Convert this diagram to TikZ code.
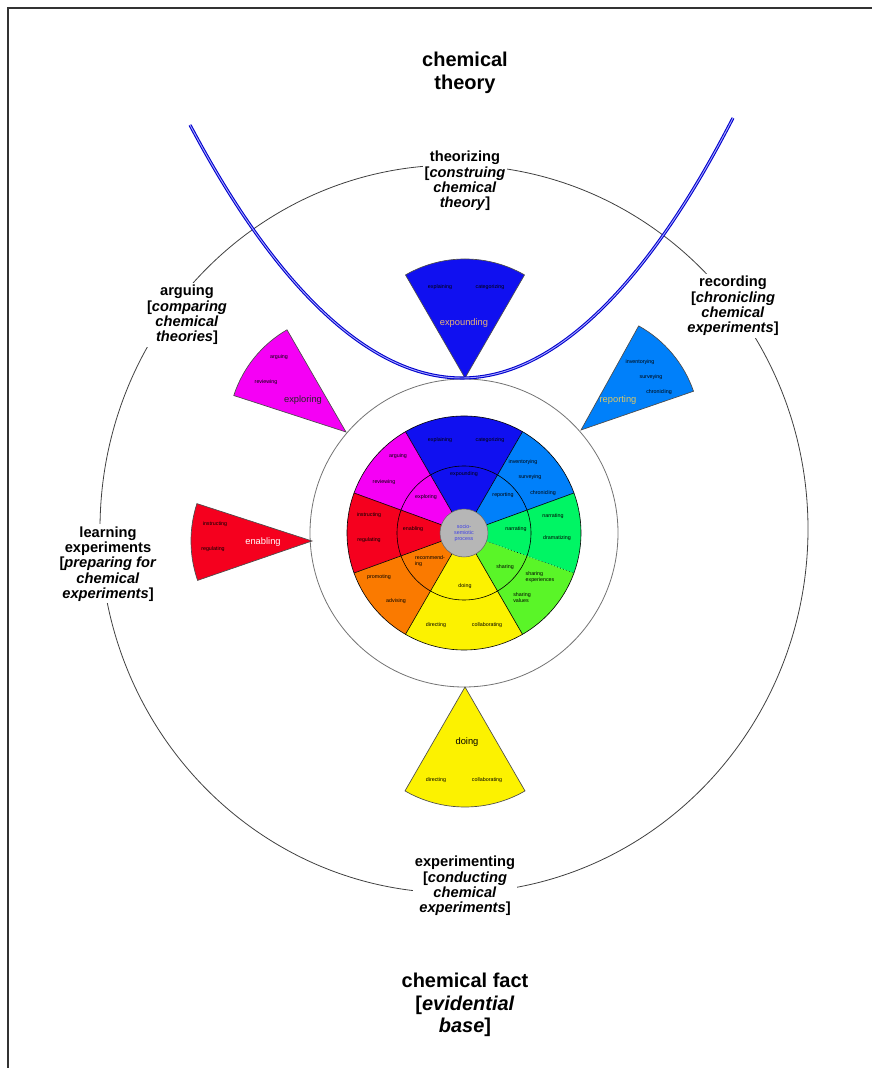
\documentclass[tikz,border=0pt]{standalone}
\usepackage{fontspec}
\setmainfont{Liberation Sans}
\usetikzlibrary{calc}

\definecolor{cBlue}{RGB}{16,16,240}
\definecolor{cSky}{RGB}{0,128,250}
\definecolor{cGreen}{RGB}{0,245,100}
\definecolor{cLime}{RGB}{90,245,40}
\definecolor{cYellow}{RGB}{252,242,0}
\definecolor{cOrange}{RGB}{250,122,0}
\definecolor{cRed}{RGB}{245,0,30}
\definecolor{cMagenta}{RGB}{245,0,245}
\definecolor{cTan}{RGB}{232,180,120}
\definecolor{cGold}{RGB}{222,200,100}
\definecolor{cHub}{RGB}{182,182,182}
\definecolor{cHubText}{RGB}{60,60,230}

\tikzset{
  tinylab/.style={font=\fontsize{4}{4.6}\selectfont, inner sep=0pt, align=center},
  seglab/.style={font=\fontsize{7}{8}\selectfont, inner sep=0pt},
  ringlab/.style={font=\bfseries\fontsize{11}{11.5}\selectfont, align=center, fill=white, inner sep=1.5pt},
  titlelab/.style={font=\bfseries\fontsize{15}{16.8}\selectfont, align=center},
  wedge/.style={draw=black!70, line width=0.5pt},
  spoke/.style={draw=black, line width=0.45pt},
  parab/.style={draw=blue!80!black, line width=2.3pt,
    postaction={draw=blue!35!white, line width=0.7pt}},
}

\begin{document}
\begin{tikzpicture}[x=0.75pt, y=0.75pt]
\useasboundingbox (0,0) rectangle (872,1068);

% page frame
\draw[black!80, line width=0.8pt] (8,0) -- (8,1060) -- (872,1060);

% centres and wedge tips
\coordinate (C) at (464,535);
\coordinate (E) at (454,539);
\coordinate (Ttop) at (465,690);
\coordinate (Tmag) at (346,636);
\coordinate (Tred) at (312,527);
\coordinate (Tsky) at (581,638);
\coordinate (Tyel) at (465,381);

% large orbit and the ring round the wheel
\draw[black!75, line width=0.6pt] (E) ellipse[x radius=354, y radius=364];
\draw[black!55, line width=0.6pt] (C) circle[radius=154];

% detached wedges
\filldraw[wedge, fill=cBlue] (Ttop) -- ++(60:119) arc[start angle=60, end angle=120, radius=119] -- cycle;
\filldraw[wedge, fill=cMagenta] (Tmag) -- ++(120:118) arc[start angle=120, end angle=162, radius=118] -- cycle;
\filldraw[wedge, fill=cRed] (Tred) -- ++(162:121) arc[start angle=162, end angle=199, radius=121] -- cycle;
\filldraw[wedge, fill=cSky] (Tsky) -- ++(19:119) arc[start angle=19, end angle=61, radius=119] -- cycle;
\filldraw[wedge, fill=cYellow] (Tyel) -- ++(240:120) arc[start angle=240, end angle=300, radius=120] -- cycle;

% theory curve
\path[parab] (190,943) parabola bend (462,690) (733,950);

% central wheel
\foreach \a/\b/\c in {60/120/cBlue, 120/160/cMagenta, 160/200/cRed, 200/240/cOrange,
                      240/300/cYellow, 300/340/cLime, 340/380/cGreen, 20/60/cSky}
  \fill[\c] (C) -- ++(\a:117) arc[start angle=\a, end angle=\b, radius=117] -- cycle;
\foreach \a in {20,60,120,160,200,240,300}
  \draw[spoke] ($(C)+(\a:24)$) -- ($(C)+(\a:117)$);
\draw[spoke, dotted] ($(C)+(340:24)$) -- ($(C)+(340:117)$);
\draw[spoke] (C) circle[radius=117];
\draw[spoke] (C) circle[radius=67];
\filldraw[fill=cHub, draw=black!60, line width=0.4pt] (C) circle[radius=24];
\node[tinylab, text=cHubText] (hub) at (C) {socio-\\semiotic\\process};

% wheel, outer ring
\node[tinylab] (w-explaining) at (440,628) {explaining};
\node[tinylab] (w-categorizing) at (490,628) {categorizing};
\node[tinylab] (w-arguing) at (398,612) {arguing};
\node[tinylab] (w-reviewing) at (384,586) {reviewing};
\node[tinylab] (w-inventorying) at (523,606) {inventorying};
\node[tinylab] (w-surveying) at (530,591) {surveying};
\node[tinylab] (w-chronicling) at (543,575) {chronicling};
\node[tinylab] (w-instructing) at (369,553) {instructing};
\node[tinylab] (w-regulating) at (369,528) {regulating};
\node[tinylab] (w-narrating) at (553,552) {narrating};
\node[tinylab] (w-dramatizing) at (557,530) {dramatizing};
\node[tinylab] (w-promoting) at (379,491) {promoting};
\node[tinylab] (w-advising) at (396,467) {advising};
\node[tinylab, align=left] (w-sharexp) at (540,491) {sharing\\experiences};
\node[tinylab, align=left] (w-sharval) at (522,470) {sharing\\values};
\node[tinylab] (w-directing) at (436,443) {directing};
\node[tinylab] (w-collaborating) at (487,443) {collaborating};

% wheel, inner ring
\node[tinylab] (i-expounding) at (464,594) {expounding};
\node[tinylab] (i-exploring) at (426,571) {exploring};
\node[tinylab] (i-reporting) at (503,573) {reporting};
\node[tinylab] (i-enabling) at (413,539) {enabling};
\node[tinylab] (i-narrating) at (516,539) {narrating};
\node[tinylab, align=left] (i-recommending) at (430,507) {recommend-\\ing};
\node[tinylab] (i-sharing) at (505,501) {sharing};
\node[tinylab] (i-doing) at (465,482) {doing};

% detached wedge labels
\node[tinylab] (t-explaining) at (440,781) {explaining};
\node[tinylab] (t-categorizing) at (490,781) {categorizing};
\node[seglab, text=cTan] (t-expounding) at (464,745) {expounding};

\node[tinylab] (m-arguing) at (279,711) {arguing};
\node[tinylab] (m-reviewing) at (266,686) {reviewing};
\node[seglab, text=black!85] (m-exploring) at (303,668) {exploring};

\node[tinylab] (s-inventorying) at (640,706) {inventorying};
\node[tinylab] (s-surveying) at (651,691) {surveying};
\node[tinylab] (s-chronicling) at (659,676) {chronicling};
\node[seglab, text=cGold] (s-reporting) at (618,668) {reporting};

\node[tinylab] (r-instructing) at (215,544) {instructing};
\node[tinylab] (r-regulating) at (213,519) {regulating};
\node[seglab, text=white] (r-enabling) at (263,526) {enabling};

\node[seglab] (y-doing) at (467,326) {doing};
\node[tinylab] (y-directing) at (436,288) {directing};
\node[tinylab] (y-collaborating) at (487,288) {collaborating};

% labels on the orbit
\node[ringlab] (theorizing) at (465,887) {theorizing\\{[}\textit{construing}\\\textit{chemical}\\\textit{theory}{]}};
\node[ringlab] (recording) at (733,762) {recording\\{[}\textit{chronicling}\\\textit{chemical}\\\textit{experiments}{]}};
\node[ringlab] (arguing) at (187,753) {arguing\\{[}\textit{comparing}\\\textit{chemical}\\\textit{theories}{]}};
\node[ringlab] (learning) at (108,504) {learning\\experiments\\{[}\textit{preparing for}\\\textit{chemical}\\\textit{experiments}{]}};
\node[ringlab] (experimenting) at (465,182) {experimenting\\{[}\textit{conducting}\\\textit{chemical}\\\textit{experiments}{]}};

% poles
\node[titlelab] (theory) at (465,995) {chemical\\theory};
\node[titlelab] (fact) at (465,63) {chemical fact\\{[}\textit{evidential}\\\textit{base}{]}};
\end{tikzpicture}
\end{document}
